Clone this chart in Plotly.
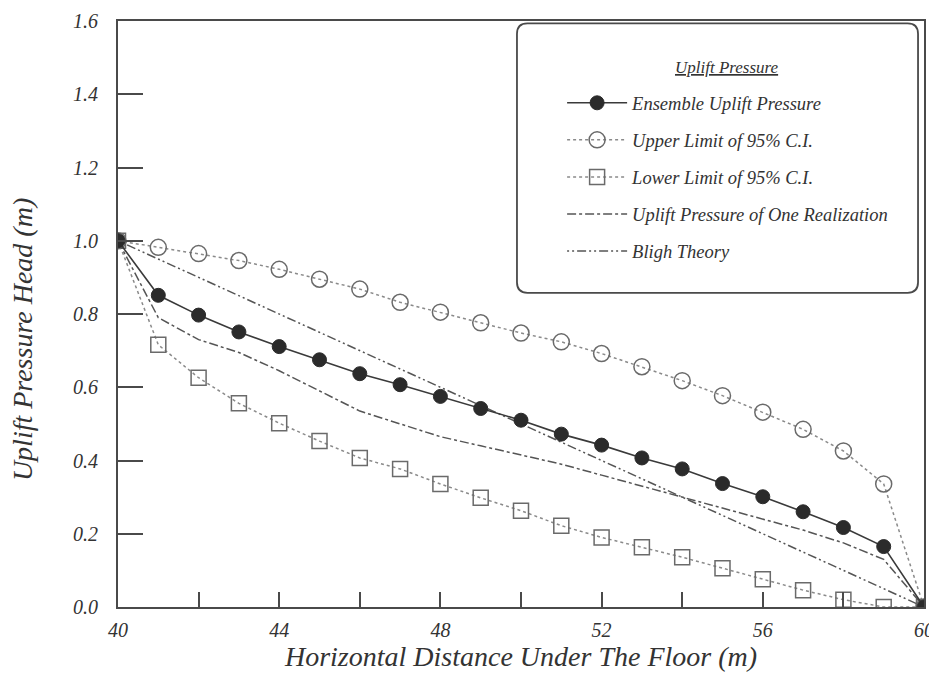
import plotly.graph_objects as go

# ---- data ----
distance = [40, 41, 42, 43, 44, 45, 46, 47, 48, 49, 50,
            51, 52, 53, 54, 55, 56, 57, 58, 59, 60]
ensemble = [1.0, 0.851, 0.797, 0.751, 0.711, 0.675, 0.637, 0.607, 0.575, 0.542, 0.510,
            0.472, 0.442, 0.407, 0.377, 0.337, 0.301, 0.260, 0.217, 0.165, 0.0]
upper_ci = [1.0, 0.982, 0.965, 0.946, 0.922, 0.895, 0.868, 0.832, 0.805, 0.776, 0.748,
            0.724, 0.692, 0.656, 0.618, 0.577, 0.532, 0.485, 0.426, 0.336, 0.0]
lower_ci = [1.0, 0.716, 0.626, 0.556, 0.502, 0.453, 0.407, 0.377, 0.336, 0.298, 0.263,
            0.222, 0.190, 0.163, 0.136, 0.106, 0.076, 0.046, 0.020, 0.0, 0.0]
one_realization = [1.0, 0.79, 0.73, 0.695, 0.645, 0.59, 0.535, 0.50, 0.465, 0.44, 0.415,
                   0.39, 0.36, 0.33, 0.30, 0.27, 0.24, 0.21, 0.175, 0.13, 0.0]
bligh_x = [40, 60]
bligh_y = [1.0, 0.0]

x_ticks = [40, 44, 48, 52, 56, 60]
y_ticks = [0.0, 0.2, 0.4, 0.6, 0.8, 1.0, 1.2, 1.4, 1.6]
y_tick_text = ["0.0", "0.2", "0.4", "0.6", "0.8", "1.0", "1.2", "1.4", "1.6"]

FONT = "Liberation Serif"
TXT = "#333333"
fig = go.Figure()

fig.add_trace(go.Scatter(
    x=distance, y=upper_ci, name="Upper Limit of 95% C.I.", legendgroup="b", legendrank=2,
    mode="lines+markers",
    line=dict(color="#8a8a8a", width=1.5, dash="dot"),
    marker=dict(symbol="circle-open", size=16, color="#6a6a6a", line=dict(width=1.5))))
fig.add_trace(go.Scatter(
    x=distance, y=lower_ci, name="Lower Limit of 95% C.I.", legendgroup="c", legendrank=3,
    mode="lines+markers",
    line=dict(color="#8a8a8a", width=1.5, dash="dot"),
    marker=dict(symbol="square-open", size=15, color="#6a6a6a", line=dict(width=1.5))))
fig.add_trace(go.Scatter(
    x=distance, y=one_realization, name="Uplift Pressure of One Realization", legendgroup="d",
    legendrank=4, mode="lines",
    line=dict(color="#555555", width=1.5, dash="dashdot")))
fig.add_trace(go.Scatter(
    x=bligh_x, y=bligh_y, name="Bligh Theory", legendgroup="e", legendrank=5,
    mode="lines",
    line=dict(color="#555555", width=1.5, dash="2px,3px,2px,3px,9px,3px")))
fig.add_trace(go.Scatter(
    x=distance, y=ensemble, name="Ensemble Uplift Pressure", legendgroup="a", legendrank=1,
    mode="lines+markers",
    line=dict(color="#3a3a3a", width=1.6),
    marker=dict(symbol="circle", size=14, color="#2b2b2b", line=dict(color="#2b2b2b", width=1))))

# legend frame (rounded)
x0, x1 = 0.495, 0.9926
y0, y1 = 0.536, 0.996
rx, ry = 0.013, 0.018
path = (f"M{x0+rx},{y1} L{x1-rx},{y1} Q{x1},{y1} {x1},{y1-ry} L{x1},{y0+ry} "
        f"Q{x1},{y0} {x1-rx},{y0} L{x0+rx},{y0} Q{x0},{y0} {x0},{y0+ry} "
        f"L{x0},{y1-ry} Q{x0},{y1} {x0+rx},{y1} Z")
fig.add_shape(type="path", path=path, xref="paper", yref="paper",
              line=dict(color="#4a4a4a", width=1.8), fillcolor="white", layer="below")

fig.add_annotation(text="<u>Uplift Pressure</u>", xref="paper", yref="paper",
                   x=0.7556, y=0.9215, xanchor="center", yanchor="middle", showarrow=False,
                   font=dict(family=FONT, size=17, color=TXT, style="italic"))
fig.add_annotation(text="Uplift Pressure Head (m)", xref="paper", yref="paper",
                   x=-0.119, y=0.4556, xanchor="center", yanchor="middle", showarrow=False,
                   textangle=-90,
                   font=dict(family=FONT, size=28, color=TXT, style="italic"))

axis_common = dict(
    showline=True, linecolor="#4a4a4a", linewidth=2, mirror=True, automargin=False,
    showgrid=False, zeroline=False, ticks="inside", tickcolor="#4a4a4a",
    ticklabeloverflow="allow",
    tickfont=dict(family=FONT, size=20, color=TXT, style="italic"),
)

# page body adds an 8px offset, so the figure is sized/margined to compensate
fig.update_layout(
    width=937, height=673,
    margin=dict(l=110, r=21, t=13, b=74),
    paper_bgcolor="white", plot_bgcolor="white",
    showlegend=True,
    legend=dict(
        x=0.551, y=0.892, xanchor="left", yanchor="top",
        bgcolor="rgba(0,0,0,0)", borderwidth=0,
        font=dict(family=FONT, size=18.5, color=TXT, style="italic"),
        tracegroupgap=10, itemwidth=60,
        traceorder="grouped",
    ),
    xaxis=dict(
        range=[40, 60], tickvals=x_ticks, ticklen=15, tickwidth=1.5,
        ticklabelstandoff=4,
        minor=dict(dtick=2, ticks="inside", ticklen=15, tickcolor="#4a4a4a", tickwidth=1.5),
        title=dict(text="Horizontal Distance Under The Floor (m)", standoff=6,
                   font=dict(family=FONT, size=28, color=TXT, style="italic")),
        **axis_common),
    yaxis=dict(
        range=[0, 1.6], tickvals=y_ticks, ticktext=y_tick_text, ticklen=25, tickwidth=1.5,
        ticklabelstandoff=14,
        **axis_common),
)

fig.write_html("out.html")
